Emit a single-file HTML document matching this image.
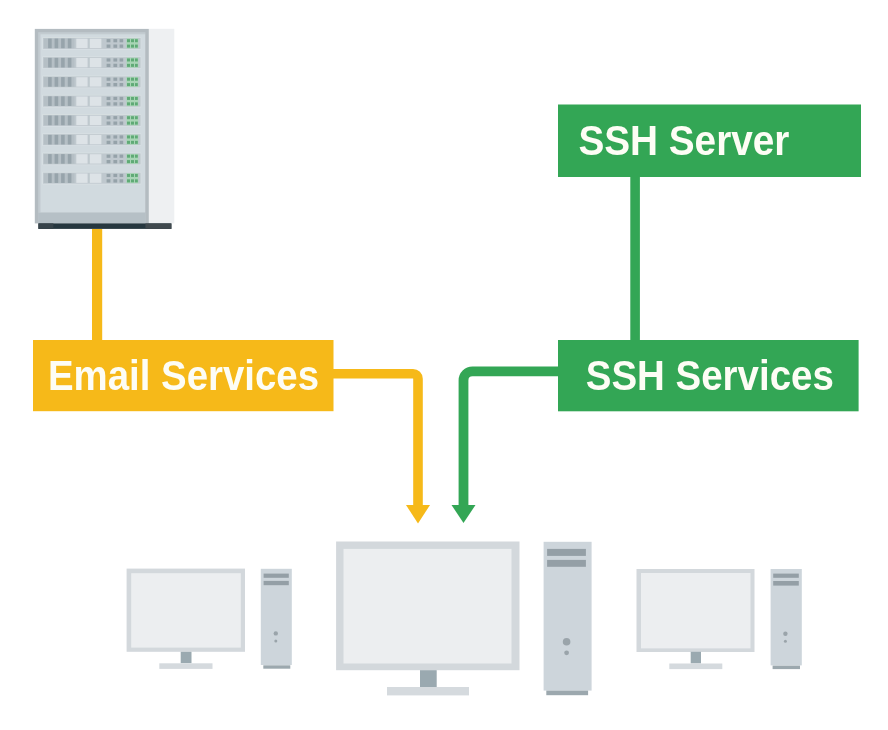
<!DOCTYPE html>
<html><head><meta charset="utf-8"><style>
html,body{margin:0;padding:0;background:#fff;width:888px;height:730px;overflow:hidden}
svg{display:block;filter:blur(0.5px)}
text{font-family:"Liberation Sans",sans-serif;font-weight:bold;fill:#fdfdf5}
</style></head><body>
<svg width="888" height="730" viewBox="0 0 888 730">
<!-- server rack -->
<g id="server">
<rect x="148.8" y="28.8" width="25.5" height="194.6" fill="#eef0f2"/>
<rect x="34.8" y="28.9" width="114" height="194.5" fill="#b4bcc1"/>
<rect x="38.2" y="32.2" width="107.2" height="191" fill="#c3cbd0"/>
<rect x="40.5" y="34.3" width="104.6" height="178" fill="#d1dadf"/>
<rect x="38.2" y="212.8" width="107.2" height="10.6" fill="#b6c0c6"/>
<rect x="38.4" y="223.4" width="133" height="5.5" fill="#26373f"/>
<rect x="38.4" y="223.4" width="15" height="5.5" fill="#37434a"/>
<rect x="145.4" y="223.4" width="26" height="5.5" fill="#40494e"/>
<g transform="translate(0,37.40)">
<rect x="42.2" y="-0.3" width="99" height="12.6" fill="#d9e0e4"/>
<rect x="43" y="0.5" width="97.6" height="11" fill="#bfc8ce"/>
<rect x="44" y="1.2" width="30.5" height="9.6" fill="#b5bfc5"/>
<rect x="48.1" y="1.2" width="3.6" height="9.6" fill="#97a4ab"/>
<rect x="54.6" y="1.2" width="3.6" height="9.6" fill="#97a4ab"/>
<rect x="61.1" y="1.2" width="3.6" height="9.6" fill="#97a4ab"/>
<rect x="67.8" y="1.2" width="3.6" height="9.6" fill="#97a4ab"/>
<rect x="76.3" y="1.3" width="11.3" height="9.4" fill="#dde3e7"/>
<rect x="89.8" y="1.3" width="11.6" height="9.4" fill="#dde3e7"/>
<rect x="106.6" y="1.7" width="3.8" height="3.2" fill="#95a2a9"/>
<rect x="113.4" y="1.7" width="3.8" height="3.2" fill="#95a2a9"/>
<rect x="119.6" y="1.7" width="3.6" height="3.2" fill="#95a2a9"/>
<rect x="106.6" y="7.1" width="3.8" height="3.3" fill="#95a2a9"/>
<rect x="113.4" y="7.1" width="3.8" height="3.3" fill="#95a2a9"/>
<rect x="119.6" y="7.1" width="3.6" height="3.3" fill="#95a2a9"/>
<rect x="126.5" y="1" width="11.8" height="10" fill="#a8d5b5"/>
<rect x="127" y="1.8" width="3" height="3" fill="#5faa76"/><rect x="131" y="1.8" width="3" height="3" fill="#5faa76"/><rect x="135" y="1.8" width="2.8" height="3" fill="#5faa76"/>
<rect x="127" y="7.2" width="3" height="3" fill="#5faa76"/><rect x="131" y="7.2" width="3" height="3" fill="#5faa76"/><rect x="135" y="7.2" width="2.8" height="3" fill="#5faa76"/>
</g>
<g transform="translate(0,56.65)">
<rect x="42.2" y="-0.3" width="99" height="12.6" fill="#d9e0e4"/>
<rect x="43" y="0.5" width="97.6" height="11" fill="#bfc8ce"/>
<rect x="44" y="1.2" width="30.5" height="9.6" fill="#b5bfc5"/>
<rect x="48.1" y="1.2" width="3.6" height="9.6" fill="#97a4ab"/>
<rect x="54.6" y="1.2" width="3.6" height="9.6" fill="#97a4ab"/>
<rect x="61.1" y="1.2" width="3.6" height="9.6" fill="#97a4ab"/>
<rect x="67.8" y="1.2" width="3.6" height="9.6" fill="#97a4ab"/>
<rect x="76.3" y="1.3" width="11.3" height="9.4" fill="#dde3e7"/>
<rect x="89.8" y="1.3" width="11.6" height="9.4" fill="#dde3e7"/>
<rect x="106.6" y="1.7" width="3.8" height="3.2" fill="#95a2a9"/>
<rect x="113.4" y="1.7" width="3.8" height="3.2" fill="#95a2a9"/>
<rect x="119.6" y="1.7" width="3.6" height="3.2" fill="#95a2a9"/>
<rect x="106.6" y="7.1" width="3.8" height="3.3" fill="#95a2a9"/>
<rect x="113.4" y="7.1" width="3.8" height="3.3" fill="#95a2a9"/>
<rect x="119.6" y="7.1" width="3.6" height="3.3" fill="#95a2a9"/>
<rect x="126.5" y="1" width="11.8" height="10" fill="#a8d5b5"/>
<rect x="127" y="1.8" width="3" height="3" fill="#5faa76"/><rect x="131" y="1.8" width="3" height="3" fill="#5faa76"/><rect x="135" y="1.8" width="2.8" height="3" fill="#5faa76"/>
<rect x="127" y="7.2" width="3" height="3" fill="#5faa76"/><rect x="131" y="7.2" width="3" height="3" fill="#5faa76"/><rect x="135" y="7.2" width="2.8" height="3" fill="#5faa76"/>
</g>
<g transform="translate(0,75.90)">
<rect x="42.2" y="-0.3" width="99" height="12.6" fill="#d9e0e4"/>
<rect x="43" y="0.5" width="97.6" height="11" fill="#bfc8ce"/>
<rect x="44" y="1.2" width="30.5" height="9.6" fill="#b5bfc5"/>
<rect x="48.1" y="1.2" width="3.6" height="9.6" fill="#97a4ab"/>
<rect x="54.6" y="1.2" width="3.6" height="9.6" fill="#97a4ab"/>
<rect x="61.1" y="1.2" width="3.6" height="9.6" fill="#97a4ab"/>
<rect x="67.8" y="1.2" width="3.6" height="9.6" fill="#97a4ab"/>
<rect x="76.3" y="1.3" width="11.3" height="9.4" fill="#dde3e7"/>
<rect x="89.8" y="1.3" width="11.6" height="9.4" fill="#dde3e7"/>
<rect x="106.6" y="1.7" width="3.8" height="3.2" fill="#95a2a9"/>
<rect x="113.4" y="1.7" width="3.8" height="3.2" fill="#95a2a9"/>
<rect x="119.6" y="1.7" width="3.6" height="3.2" fill="#95a2a9"/>
<rect x="106.6" y="7.1" width="3.8" height="3.3" fill="#95a2a9"/>
<rect x="113.4" y="7.1" width="3.8" height="3.3" fill="#95a2a9"/>
<rect x="119.6" y="7.1" width="3.6" height="3.3" fill="#95a2a9"/>
<rect x="126.5" y="1" width="11.8" height="10" fill="#a8d5b5"/>
<rect x="127" y="1.8" width="3" height="3" fill="#5faa76"/><rect x="131" y="1.8" width="3" height="3" fill="#5faa76"/><rect x="135" y="1.8" width="2.8" height="3" fill="#5faa76"/>
<rect x="127" y="7.2" width="3" height="3" fill="#5faa76"/><rect x="131" y="7.2" width="3" height="3" fill="#5faa76"/><rect x="135" y="7.2" width="2.8" height="3" fill="#5faa76"/>
</g>
<g transform="translate(0,95.15)">
<rect x="42.2" y="-0.3" width="99" height="12.6" fill="#d9e0e4"/>
<rect x="43" y="0.5" width="97.6" height="11" fill="#bfc8ce"/>
<rect x="44" y="1.2" width="30.5" height="9.6" fill="#b5bfc5"/>
<rect x="48.1" y="1.2" width="3.6" height="9.6" fill="#97a4ab"/>
<rect x="54.6" y="1.2" width="3.6" height="9.6" fill="#97a4ab"/>
<rect x="61.1" y="1.2" width="3.6" height="9.6" fill="#97a4ab"/>
<rect x="67.8" y="1.2" width="3.6" height="9.6" fill="#97a4ab"/>
<rect x="76.3" y="1.3" width="11.3" height="9.4" fill="#dde3e7"/>
<rect x="89.8" y="1.3" width="11.6" height="9.4" fill="#dde3e7"/>
<rect x="106.6" y="1.7" width="3.8" height="3.2" fill="#95a2a9"/>
<rect x="113.4" y="1.7" width="3.8" height="3.2" fill="#95a2a9"/>
<rect x="119.6" y="1.7" width="3.6" height="3.2" fill="#95a2a9"/>
<rect x="106.6" y="7.1" width="3.8" height="3.3" fill="#95a2a9"/>
<rect x="113.4" y="7.1" width="3.8" height="3.3" fill="#95a2a9"/>
<rect x="119.6" y="7.1" width="3.6" height="3.3" fill="#95a2a9"/>
<rect x="126.5" y="1" width="11.8" height="10" fill="#a8d5b5"/>
<rect x="127" y="1.8" width="3" height="3" fill="#5faa76"/><rect x="131" y="1.8" width="3" height="3" fill="#5faa76"/><rect x="135" y="1.8" width="2.8" height="3" fill="#5faa76"/>
<rect x="127" y="7.2" width="3" height="3" fill="#5faa76"/><rect x="131" y="7.2" width="3" height="3" fill="#5faa76"/><rect x="135" y="7.2" width="2.8" height="3" fill="#5faa76"/>
</g>
<g transform="translate(0,114.40)">
<rect x="42.2" y="-0.3" width="99" height="12.6" fill="#d9e0e4"/>
<rect x="43" y="0.5" width="97.6" height="11" fill="#bfc8ce"/>
<rect x="44" y="1.2" width="30.5" height="9.6" fill="#b5bfc5"/>
<rect x="48.1" y="1.2" width="3.6" height="9.6" fill="#97a4ab"/>
<rect x="54.6" y="1.2" width="3.6" height="9.6" fill="#97a4ab"/>
<rect x="61.1" y="1.2" width="3.6" height="9.6" fill="#97a4ab"/>
<rect x="67.8" y="1.2" width="3.6" height="9.6" fill="#97a4ab"/>
<rect x="76.3" y="1.3" width="11.3" height="9.4" fill="#dde3e7"/>
<rect x="89.8" y="1.3" width="11.6" height="9.4" fill="#dde3e7"/>
<rect x="106.6" y="1.7" width="3.8" height="3.2" fill="#95a2a9"/>
<rect x="113.4" y="1.7" width="3.8" height="3.2" fill="#95a2a9"/>
<rect x="119.6" y="1.7" width="3.6" height="3.2" fill="#95a2a9"/>
<rect x="106.6" y="7.1" width="3.8" height="3.3" fill="#95a2a9"/>
<rect x="113.4" y="7.1" width="3.8" height="3.3" fill="#95a2a9"/>
<rect x="119.6" y="7.1" width="3.6" height="3.3" fill="#95a2a9"/>
<rect x="126.5" y="1" width="11.8" height="10" fill="#a8d5b5"/>
<rect x="127" y="1.8" width="3" height="3" fill="#5faa76"/><rect x="131" y="1.8" width="3" height="3" fill="#5faa76"/><rect x="135" y="1.8" width="2.8" height="3" fill="#5faa76"/>
<rect x="127" y="7.2" width="3" height="3" fill="#5faa76"/><rect x="131" y="7.2" width="3" height="3" fill="#5faa76"/><rect x="135" y="7.2" width="2.8" height="3" fill="#5faa76"/>
</g>
<g transform="translate(0,133.65)">
<rect x="42.2" y="-0.3" width="99" height="12.6" fill="#d9e0e4"/>
<rect x="43" y="0.5" width="97.6" height="11" fill="#bfc8ce"/>
<rect x="44" y="1.2" width="30.5" height="9.6" fill="#b5bfc5"/>
<rect x="48.1" y="1.2" width="3.6" height="9.6" fill="#97a4ab"/>
<rect x="54.6" y="1.2" width="3.6" height="9.6" fill="#97a4ab"/>
<rect x="61.1" y="1.2" width="3.6" height="9.6" fill="#97a4ab"/>
<rect x="67.8" y="1.2" width="3.6" height="9.6" fill="#97a4ab"/>
<rect x="76.3" y="1.3" width="11.3" height="9.4" fill="#dde3e7"/>
<rect x="89.8" y="1.3" width="11.6" height="9.4" fill="#dde3e7"/>
<rect x="106.6" y="1.7" width="3.8" height="3.2" fill="#95a2a9"/>
<rect x="113.4" y="1.7" width="3.8" height="3.2" fill="#95a2a9"/>
<rect x="119.6" y="1.7" width="3.6" height="3.2" fill="#95a2a9"/>
<rect x="106.6" y="7.1" width="3.8" height="3.3" fill="#95a2a9"/>
<rect x="113.4" y="7.1" width="3.8" height="3.3" fill="#95a2a9"/>
<rect x="119.6" y="7.1" width="3.6" height="3.3" fill="#95a2a9"/>
<rect x="126.5" y="1" width="11.8" height="10" fill="#a8d5b5"/>
<rect x="127" y="1.8" width="3" height="3" fill="#5faa76"/><rect x="131" y="1.8" width="3" height="3" fill="#5faa76"/><rect x="135" y="1.8" width="2.8" height="3" fill="#5faa76"/>
<rect x="127" y="7.2" width="3" height="3" fill="#5faa76"/><rect x="131" y="7.2" width="3" height="3" fill="#5faa76"/><rect x="135" y="7.2" width="2.8" height="3" fill="#5faa76"/>
</g>
<g transform="translate(0,152.90)">
<rect x="42.2" y="-0.3" width="99" height="12.6" fill="#d9e0e4"/>
<rect x="43" y="0.5" width="97.6" height="11" fill="#bfc8ce"/>
<rect x="44" y="1.2" width="30.5" height="9.6" fill="#b5bfc5"/>
<rect x="48.1" y="1.2" width="3.6" height="9.6" fill="#97a4ab"/>
<rect x="54.6" y="1.2" width="3.6" height="9.6" fill="#97a4ab"/>
<rect x="61.1" y="1.2" width="3.6" height="9.6" fill="#97a4ab"/>
<rect x="67.8" y="1.2" width="3.6" height="9.6" fill="#97a4ab"/>
<rect x="76.3" y="1.3" width="11.3" height="9.4" fill="#dde3e7"/>
<rect x="89.8" y="1.3" width="11.6" height="9.4" fill="#dde3e7"/>
<rect x="106.6" y="1.7" width="3.8" height="3.2" fill="#95a2a9"/>
<rect x="113.4" y="1.7" width="3.8" height="3.2" fill="#95a2a9"/>
<rect x="119.6" y="1.7" width="3.6" height="3.2" fill="#95a2a9"/>
<rect x="106.6" y="7.1" width="3.8" height="3.3" fill="#95a2a9"/>
<rect x="113.4" y="7.1" width="3.8" height="3.3" fill="#95a2a9"/>
<rect x="119.6" y="7.1" width="3.6" height="3.3" fill="#95a2a9"/>
<rect x="126.5" y="1" width="11.8" height="10" fill="#a8d5b5"/>
<rect x="127" y="1.8" width="3" height="3" fill="#5faa76"/><rect x="131" y="1.8" width="3" height="3" fill="#5faa76"/><rect x="135" y="1.8" width="2.8" height="3" fill="#5faa76"/>
<rect x="127" y="7.2" width="3" height="3" fill="#5faa76"/><rect x="131" y="7.2" width="3" height="3" fill="#5faa76"/><rect x="135" y="7.2" width="2.8" height="3" fill="#5faa76"/>
</g>
<g transform="translate(0,172.15)">
<rect x="42.2" y="-0.3" width="99" height="12.6" fill="#d9e0e4"/>
<rect x="43" y="0.5" width="97.6" height="11" fill="#bfc8ce"/>
<rect x="44" y="1.2" width="30.5" height="9.6" fill="#b5bfc5"/>
<rect x="48.1" y="1.2" width="3.6" height="9.6" fill="#97a4ab"/>
<rect x="54.6" y="1.2" width="3.6" height="9.6" fill="#97a4ab"/>
<rect x="61.1" y="1.2" width="3.6" height="9.6" fill="#97a4ab"/>
<rect x="67.8" y="1.2" width="3.6" height="9.6" fill="#97a4ab"/>
<rect x="76.3" y="1.3" width="11.3" height="9.4" fill="#dde3e7"/>
<rect x="89.8" y="1.3" width="11.6" height="9.4" fill="#dde3e7"/>
<rect x="106.6" y="1.7" width="3.8" height="3.2" fill="#95a2a9"/>
<rect x="113.4" y="1.7" width="3.8" height="3.2" fill="#95a2a9"/>
<rect x="119.6" y="1.7" width="3.6" height="3.2" fill="#95a2a9"/>
<rect x="106.6" y="7.1" width="3.8" height="3.3" fill="#95a2a9"/>
<rect x="113.4" y="7.1" width="3.8" height="3.3" fill="#95a2a9"/>
<rect x="119.6" y="7.1" width="3.6" height="3.3" fill="#95a2a9"/>
<rect x="126.5" y="1" width="11.8" height="10" fill="#a8d5b5"/>
<rect x="127" y="1.8" width="3" height="3" fill="#5faa76"/><rect x="131" y="1.8" width="3" height="3" fill="#5faa76"/><rect x="135" y="1.8" width="2.8" height="3" fill="#5faa76"/>
<rect x="127" y="7.2" width="3" height="3" fill="#5faa76"/><rect x="131" y="7.2" width="3" height="3" fill="#5faa76"/><rect x="135" y="7.2" width="2.8" height="3" fill="#5faa76"/>
</g>
</g>
<!-- yellow line -->
<rect x="92" y="229" width="10.2" height="112" fill="#f6b919"/>
<!-- email box -->
<rect x="33" y="340" width="300.5" height="71.2" fill="#f6b919"/>
<text x="48" y="390.3" font-size="42.3" textLength="271" lengthAdjust="spacingAndGlyphs">Email Services</text>
<path d="M333 373.7 H413 a5 5 0 0 1 5 5 V506" stroke="#f6b919" stroke-width="9.6" fill="none"/>
<path d="M406 505 H430 L418 523.6 Z" fill="#f6b919"/>
<!-- SSH server -->
<rect x="558" y="104.5" width="303" height="72.5" fill="#33a655"/>
<text x="578.4" y="154.5" font-size="42.3" textLength="211" lengthAdjust="spacingAndGlyphs">SSH Server</text>
<rect x="630.3" y="177" width="9.6" height="164" fill="#33a655"/>
<rect x="558" y="340" width="300.6" height="71.3" fill="#33a655"/>
<text x="585.8" y="389.8" font-size="42.3" textLength="248" lengthAdjust="spacingAndGlyphs">SSH Services</text>
<path d="M558 371.4 H472.5 a9 9 0 0 0 -9 9 V506" stroke="#33a655" stroke-width="9.8" fill="none"/>
<path d="M451.5 505 H475.5 L463.5 523 Z" fill="#33a655"/>

<!-- left computer -->
<rect x="126.6" y="568.6" width="118.4" height="83.2" fill="#d3d8dc"/>
<rect x="131.2" y="573.2" width="109.6" height="74.4" fill="#eceef0"/>
<rect x="180.7" y="651.8" width="10.8" height="11.4" fill="#9aa9b0"/>
<rect x="159.3" y="663.3" width="53.2" height="5.6" fill="#d5dade"/>
<rect x="260.8" y="568.8" width="31" height="96.2" fill="#cdd5db"/>
<rect x="263.3" y="665.3" width="27" height="3.4" fill="#9ca8ae"/>
<rect x="263.6" y="573.6" width="25.2" height="4.2" fill="#949fa6"/>
<rect x="263.6" y="580.9" width="25.2" height="4.3" fill="#949fa6"/>
<circle cx="275.8" cy="633.4" r="2.2" fill="#9aa4aa"/>
<circle cx="275.8" cy="641" r="1.5" fill="#9aa4aa"/>

<!-- center computer -->
<rect x="336.1" y="541.5" width="183.4" height="128.7" fill="#d3d8dc"/>
<rect x="343.5" y="548.9" width="168" height="114.6" fill="#eceef0"/>
<rect x="420" y="670.2" width="16.7" height="16.8" fill="#9aa9b0"/>
<rect x="387" y="687" width="82" height="8.4" fill="#d5dade"/>
<rect x="543.6" y="541.8" width="48" height="148.8" fill="#cdd5db"/>
<rect x="546.3" y="690.6" width="41.8" height="4.6" fill="#9ca8ae"/>
<rect x="547.1" y="548.9" width="38.8" height="7" fill="#949fa6"/>
<rect x="547.1" y="559.9" width="38.8" height="6.9" fill="#949fa6"/>
<circle cx="566.6" cy="641.8" r="3.8" fill="#9aa4aa"/>
<circle cx="566.6" cy="652.8" r="2.4" fill="#9aa4aa"/>

<!-- right computer -->
<rect x="636.5" y="569" width="118" height="83" fill="#d3d8dc"/>
<rect x="641" y="573" width="109.5" height="75.4" fill="#eceef0"/>
<rect x="690.7" y="651.8" width="10.3" height="11.6" fill="#9aa9b0"/>
<rect x="669.3" y="663.5" width="53" height="5.6" fill="#d5dade"/>
<rect x="770.6" y="569" width="31.2" height="96.4" fill="#cdd5db"/>
<rect x="772.6" y="665.6" width="27.4" height="3.5" fill="#9ca8ae"/>
<rect x="773.2" y="573.6" width="25.6" height="4.2" fill="#949fa6"/>
<rect x="773.2" y="581" width="25.6" height="4.6" fill="#949fa6"/>
<circle cx="785.4" cy="633.8" r="2.2" fill="#9aa4aa"/>
<circle cx="785.4" cy="641.2" r="1.5" fill="#9aa4aa"/>
</svg>
</body></html>
